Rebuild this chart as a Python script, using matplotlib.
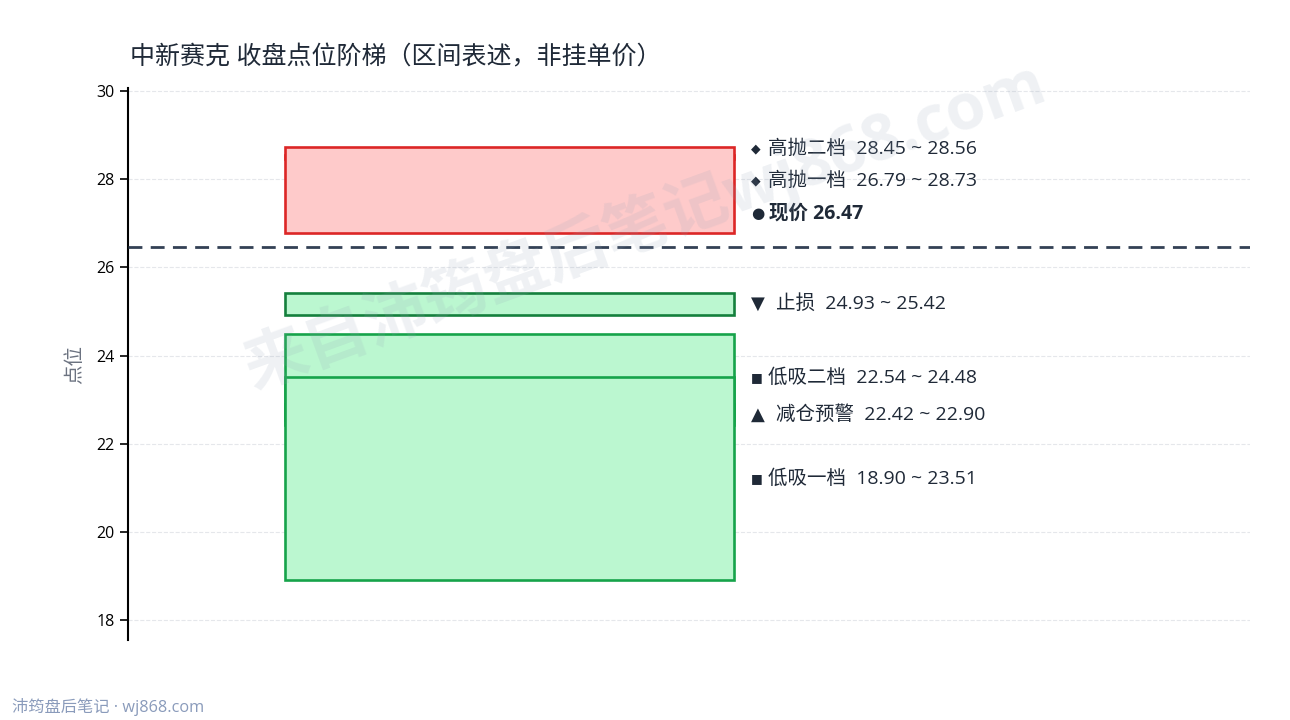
import matplotlib
matplotlib.use('Agg')
import matplotlib.pyplot as plt
from matplotlib.patches import Rectangle

plt.rcParams['font.family'] = ['Open Sans', 'DejaVu Sans', 'Noto Sans CJK SC']

# zones: name, low, high, marker, kind (drawn in this order)
zone_names = ['高抛二档', '高抛一档', '止损', '低吸二档', '减仓预警', '低吸一档']
zone_low = [28.45, 26.79, 24.93, 22.54, 22.42, 18.90]
zone_high = [28.56, 28.73, 25.42, 24.48, 22.90, 23.51]
zone_marks = ['◆', '◆', '▼', '■', '▲', '■']
zone_kind = ['sell', 'sell', 'stop', 'buy', 'warn', 'buy']
price = 26.47

styles = {
    'sell': ('#fecaca', '#dc2626'),
    'stop': ('#bbf7d0', '#15803d'),
    'buy': ('#bbf7d0', '#16a34a'),
    'warn': ('#bbf7d0', '#16a34a'),
}
# marker glyph size and gap before label text (px)
mark_style = {'◆': (9, 17), '■': (9, 17), '●': (11, 18), '▼': (13, 25), '▲': (13, 25)}
text_color = '#1f2937'

fig = plt.figure(figsize=(12.9, 7.2), dpi=100)
ax = fig.add_axes([128 / 1290, 80 / 720, 1122 / 1290, 552 / 720])
ax.set_xlim(0, 1)
ax.set_ylim(17.55, 30.07)

for i in range(len(zone_names)):
    face, edge = styles[zone_kind[i]]
    ax.add_patch(Rectangle((0.14, zone_low[i]), 0.40, zone_high[i] - zone_low[i],
                           facecolor=face, edgecolor=edge, linewidth=1.9, zorder=2))

ax.axhline(price, color='#334155', linestyle=(0, (5, 3)), linewidth=2, zorder=3)

# label positions: midpoints, pushed up to avoid overlap
labels = []
for i in range(len(zone_names)):
    mid = (zone_low[i] + zone_high[i]) / 2
    txt = f'{zone_names[i]}  {zone_low[i]:.2f} ~ {zone_high[i]:.2f}'
    labels.append([mid, zone_marks[i], txt, 'normal'])
labels.append([price + 0.76, '●', f'现价 {price:.2f}', 'bold'])
labels.sort(key=lambda l: l[0])
gap = 0.73
for k in range(1, len(labels)):
    if labels[k][0] < labels[k - 1][0] + gap:
        labels[k][0] = labels[k - 1][0] + gap

for y, mk, txt, w in labels:
    msize, off = mark_style[mk]
    ax.text(0.5555, y, mk, fontsize=msize, color=text_color, family='DejaVu Sans',
            va='center', ha='left', zorder=4)
    ax.annotate(txt, xy=(0.5555, y), xytext=(off * 0.72, 0), textcoords='offset points',
                fontsize=14, color=text_color, fontweight=w,
                va='center', ha='left', zorder=4)

ax.set_yticks([18, 20, 22, 24, 26, 28, 30])
ax.tick_params(axis='y', labelsize=11.5, length=6, width=1.2)
ax.set_xticks([])
ax.grid(axis='y', color='#e5e7eb', linestyle='--', linewidth=0.8)
ax.set_axisbelow(True)
for s in ['top', 'right', 'bottom']:
    ax.spines[s].set_visible(False)
ax.spines['left'].set_linewidth(1.5)
ax.set_ylabel('点位', fontsize=14, color='#6b7280', labelpad=9)

fig.text(130 / 1290, 1 - 58 / 720, '中新赛克 收盘点位阶梯（区间表述，非挂单价）',
         fontsize=18, color=text_color, va='center', ha='left')
fig.text(12 / 1290, 1 - 707 / 720, '沛筠盘后笔记 · wj868.com',
         fontsize=11.7, color='#8a9bbb', va='center', ha='left')
fig.text(645 / 1290, 1 - 226 / 720, '来自沛筠盘后笔记wj868.com', fontsize=46,
         fontweight='bold', color='#94a3b8', alpha=0.15, rotation=20,
         ha='center', va='center')

fig.savefig('out.png', dpi=100)
